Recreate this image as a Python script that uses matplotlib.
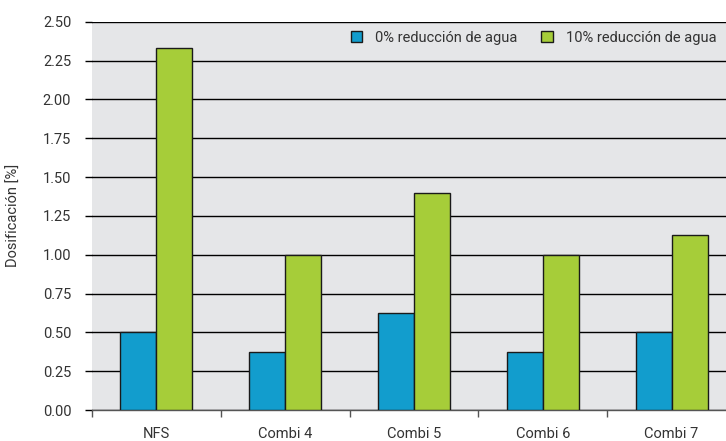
import matplotlib.pyplot as plt
import numpy as np

categories = ["NFS", "Combi 4", "Combi 5", "Combi 6", "Combi 7"]
reduccion_0 = [0.5, 0.375, 0.625, 0.375, 0.5]
reduccion_10 = [2.33, 1.0, 1.4, 1.0, 1.125]
series_labels = ["0% reducción de agua", "10% reducción de agua"]
yticks = [0.0, 0.25, 0.5, 0.75, 1.0, 1.25, 1.5, 1.75, 2.0, 2.25, 2.5]

plt.rcParams['font.family'] = ['Roboto', 'DejaVu Sans']
fs = 10.5
txt = '#333333'

fig = plt.figure(figsize=(7.26, 4.41), dpi=100)
ax = fig.add_axes([92 / 726, 1 - 410 / 441, 644 / 726, 388.3 / 441])
ax.set_facecolor('#e5e6e8')

x = np.arange(len(categories))
w = 0.28
ax.bar(x - w / 2, reduccion_0, w, color='#129dcd', edgecolor='#1a1a1a', linewidth=1, label=series_labels[0], zorder=3)
ax.bar(x + w / 2, reduccion_10, w, color='#a6cd39', edgecolor='#1a1a1a', linewidth=1, label=series_labels[1], zorder=3)

ax.set_xlim(-0.5, len(categories) - 0.5)
ax.set_ylim(0, 2.5)
ax.set_yticks(yticks)
ax.set_yticklabels([f"{v:.2f}" for v in yticks])
ax.yaxis.grid(True, color='black', linewidth=1)
ax.set_axisbelow(True)
ax.tick_params(axis='y', length=5, width=1, color='black', labelsize=fs, labelcolor=txt, pad=10)

ax.set_xticks(x)
ax.set_xticklabels(categories)
ax.set_xticks(np.arange(len(categories) + 1) - 0.5, minor=True)
ax.tick_params(axis='x', which='major', length=0, labelsize=fs, labelcolor=txt, pad=12)
ax.tick_params(axis='x', which='minor', length=5, width=1, color='#555555')

for side in ['left', 'right', 'top']:
    ax.spines[side].set_visible(False)
ax.spines['bottom'].set_color('#555555')
ax.spines['bottom'].set_linewidth(1)

ax.set_ylabel("Dosificación [%]", fontsize=fs, color=txt, labelpad=16)

ax.legend(loc='upper right', bbox_to_anchor=(0.99, 1.01), ncol=2, frameon=False, fontsize=fs,
          handlelength=0.8, handleheight=0.8, columnspacing=1.6, handletextpad=0.9,
          labelcolor=txt)

fig.savefig("out.png", dpi=100)
